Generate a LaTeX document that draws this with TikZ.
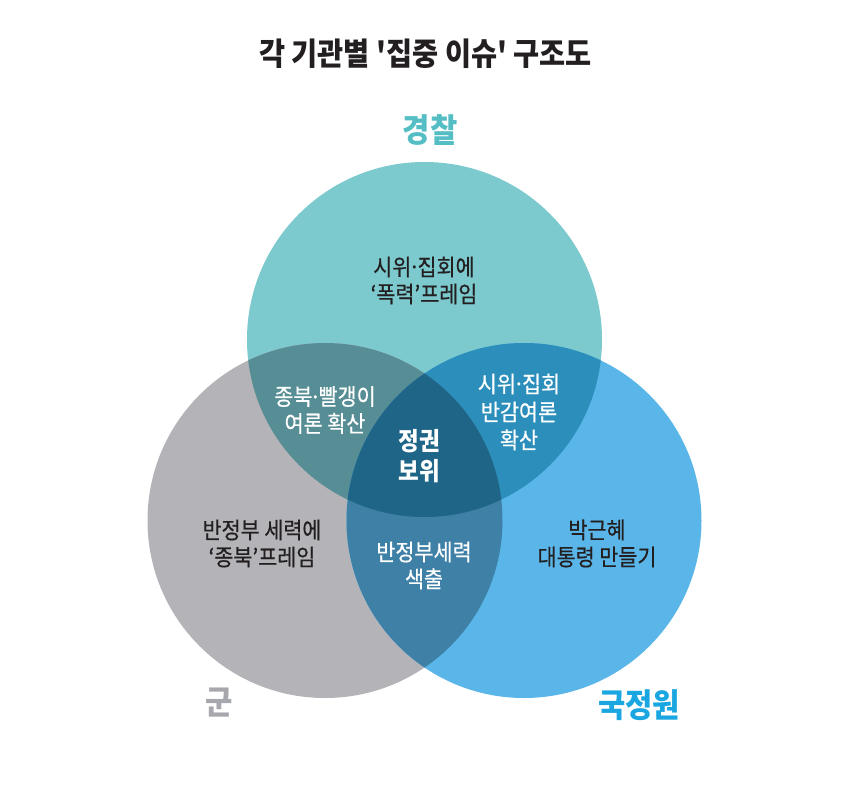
\documentclass[tikz,border=0pt]{standalone}
\usepackage{fontspec}
\newfontfamily\kr[FakeStretch=0.9]{Noto Sans CJK KR}
\newfontfamily\krm[FakeStretch=0.9,FakeBold=0.5]{Noto Sans CJK KR}
\newfontfamily\latn{Noto Sans}
\newcommand{\mdot}{{\latn ·}}
\definecolor{cT}{HTML}{7CC9CE}
\definecolor{cL}{HTML}{B3B3B8}
\definecolor{cR}{HTML}{5AB6E8}
\definecolor{cTL}{HTML}{578D95}
\definecolor{cTR}{HTML}{2C8FBB}
\definecolor{cLR}{HTML}{3F80A7}
\definecolor{cTLR}{HTML}{1F6588}
\definecolor{ink}{HTML}{231F20}
\definecolor{hT}{HTML}{55BEC5}
\definecolor{hL}{HTML}{A7A8AD}
\definecolor{hR}{HTML}{1AA6E0}
\tikzset{
  lbl/.style={align=center, inner sep=0pt, font=\krm\fontsize{23}{27}\selectfont},
  dark/.style={lbl, text=ink},
  light/.style={lbl, text=white},
  head/.style={inner sep=0pt, font=\kr\bfseries\fontsize{33}{38}\selectfont}
}
\begin{document}
\begin{tikzpicture}[x=1pt,y=-1pt]
\useasboundingbox (0,0) rectangle (860,787);
\fill[white] (0,0) rectangle (860,787);
\coordinate (T) at (424.5,339.5);
\coordinate (L) at (325,520.5);
\coordinate (R) at (524,520.5);
\def\rr{177.5pt}
% base circles
\fill[cT] (T) circle[radius=\rr];
\fill[cL] (L) circle[radius=\rr];
\fill[cR] (R) circle[radius=\rr];
% pairwise overlaps
\begin{scope}
  \clip (T) circle[radius=\rr];
  \fill[cTL] (L) circle[radius=\rr];
  \fill[cTR] (R) circle[radius=\rr];
\end{scope}
\begin{scope}
  \clip (L) circle[radius=\rr];
  \fill[cLR] (R) circle[radius=\rr];
\end{scope}
\begin{scope}
  \clip (T) circle[radius=\rr];
  \clip (L) circle[radius=\rr];
  \fill[cTLR] (R) circle[radius=\rr];
\end{scope}
% title and heads
\node[inner sep=0pt, text=ink, font=\kr\bfseries\fontsize{31.5}{36}\selectfont] (title) at (425.5,54) {각 기관별 '집중 이슈' 구조도};
\node[head, text=hT] (police) at (430,130) {경찰};
\node[head, text=hL] (army) at (219,703) {군};
\node[head, text=hR] (nis) at (639,705) {국정원};
% region labels
\node[dark] (t1) at (424,280.5) {시위\mdot 집회에\\‘폭력’프레임};
\node[light] (tl) at (325,410) {종북\mdot 빨갱이\\여론 확산};
\node[light, font=\krm\fontsize{23}{28}\selectfont] (tr) at (519,412) {시위\mdot 집회\\반감여론\\확산};
\node[light, font=\kr\bfseries\fontsize{25}{30}\selectfont] (c) at (419,456) {정권\\보위};
\node[dark] (l1) at (262,543.5) {반정부 세력에\\‘종북’프레임};
\node[light] (lr) at (424,565.5) {반정부세력\\색출};
\node[dark] (r1) at (597,543.5) {박근혜\\대통령 만들기};
\end{tikzpicture}
\end{document}
